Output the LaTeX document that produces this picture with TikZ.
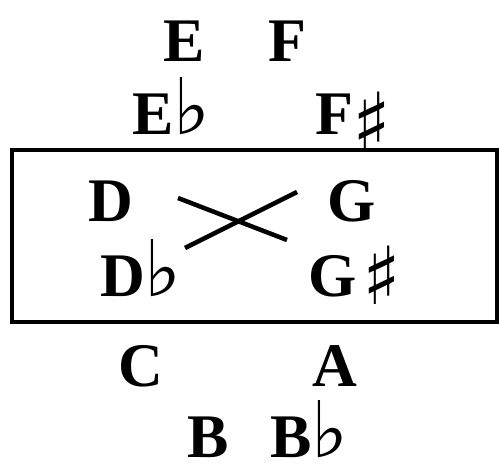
\documentclass[tikz,border=0pt]{standalone}
\usepackage{fontspec}
\setmainfont{Liberation Serif}
\newfontfamily\accfont{DejaVu Sans}
\newcommand{\flt}{{\accfont\fontsize{78}{78}\selectfont ♭}}
\newcommand{\shp}[1]{\raisebox{-#1}{\accfont\fontsize{80}{80}\selectfont ♯}}
\begin{document}
\begin{tikzpicture}[x=1pt,y=-1pt,
  note/.style={inner sep=0pt,anchor=base west,font=\bfseries\fontsize{62}{62}\selectfont},
  cross/.style={line width=4.5pt}]
\useasboundingbox (0,0) rectangle (499,465);
\node[draw,line width=3.5pt,minimum width=485pt,minimum height=172pt,inner sep=0pt] (box) at (254.5,236) {};
\node[note] (E) at (163,62) {E};
\node[note] (F) at (268,62) {F};
\node[note] (Eb) at (132,135) {E\flt};
\node[note] (Fs) at (315,135) {F\hspace{-1pt}\shp{16pt}};
\node[note] (D) at (88,222) {D};
\node[note] (G) at (327,222) {G};
\node[note] (Db) at (100,297) {D\flt};
\node[note] (Gs) at (308,297) {G\hspace{6pt}\shp{8pt}};
\node[note] (C) at (118,387) {C};
\node[note] (A) at (312,387) {A};
\node[note] (B) at (187,458) {B};
\node[note] (Bb) at (270,458) {B\flt};
\coordinate (l1a) at (178,198);
\coordinate (l1b) at (287,240);
\coordinate (l2a) at (185,248);
\coordinate (l2b) at (297,192);
\draw[cross] (l1a) -- (l1b);
\draw[cross] (l2a) -- (l2b);
\end{tikzpicture}
\end{document}
